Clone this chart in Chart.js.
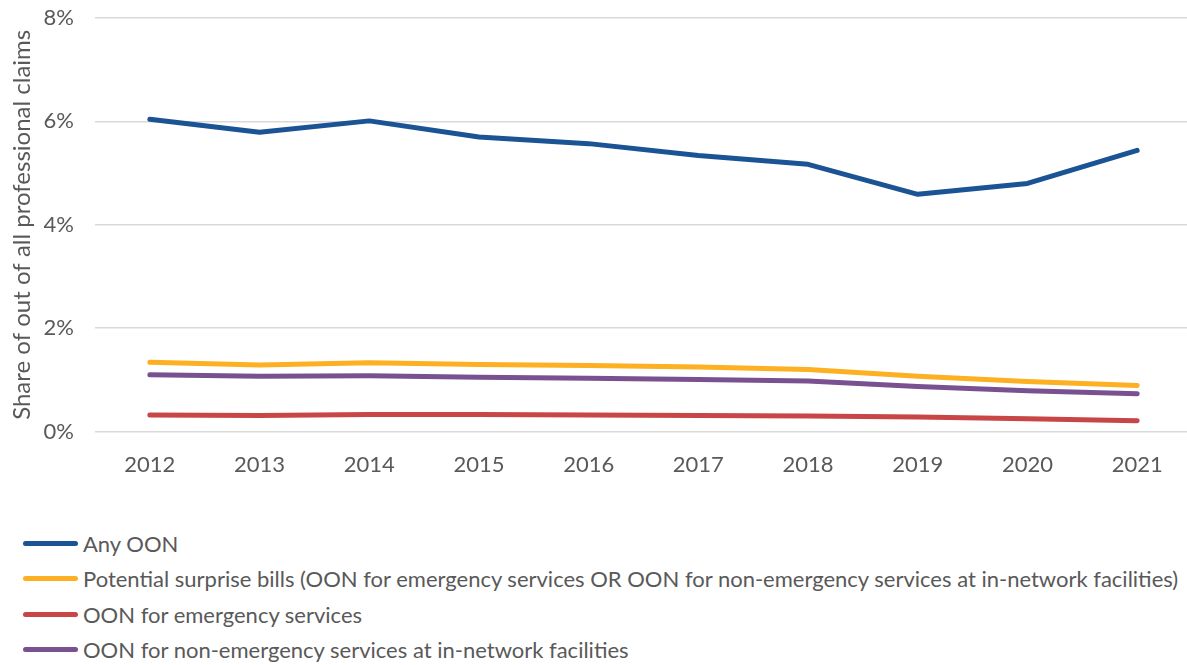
<!DOCTYPE html>
<html>
<head>
<meta charset="utf-8">
<script src="https://cdn.jsdelivr.net/npm/chart.js@4/dist/chart.umd.min.js"></script>
<style>
  html, body { margin: 0; padding: 0; background: #ffffff; overflow: hidden; }
  body { width: 1187px; height: 665px; position: relative; font-family: Lato, "Open Sans", sans-serif; }
  #wrap { position: absolute; left: 0; top: 0; width: 1192px; height: 503px; }
  #legend { position: absolute; left: 23px; top: 526px; margin: 0; padding: 0; list-style: none; }
  #legend li { display: flex; align-items: center; height: 35.3px; color: #595959; font-size: 22px; white-space: nowrap; }
  #legend .swatch { display: inline-block; width: 55px; height: 5px; border-radius: 3px; margin-right: 5px; }
</style>
</head>
<body>
<div id="wrap"><canvas id="chart"></canvas></div>
<ul id="legend"></ul>
<script>
// Years on the category axis
const years = ['2012', '2013', '2014', '2015', '2016', '2017', '2018', '2019', '2020', '2021'];

// Share of all professional claims, in percent
const anyOON = [6.04, 5.79, 6.01, 5.70, 5.57, 5.34, 5.17, 4.59, 4.80, 5.44];
const surpriseBills = [1.34, 1.29, 1.33, 1.30, 1.28, 1.25, 1.20, 1.07, 0.97, 0.89];
const emergencyOON = [0.32, 0.31, 0.33, 0.33, 0.32, 0.31, 0.30, 0.28, 0.25, 0.21];
const nonEmergencyOON = [1.10, 1.07, 1.08, 1.05, 1.03, 1.01, 0.98, 0.87, 0.79, 0.73];

// Y axis tick values
const yTicks = [0, 2, 4, 6, 8];

const seriesNames = [
  'Any OON',
  'Potential surprise bills (OON for emergency services OR OON for non-emergency services at in-network facilities)',
  'OON for emergency services',
  'OON for non-emergency services at in-network facilities'
];
const seriesColors = ['#1B5494', '#FDB022', '#C94647', '#7A5190'];
const seriesData = [anyOON, surpriseBills, emergencyOON, nonEmergencyOON];

const FONT = 'Lato, "Open Sans", sans-serif';
const TEXT = '#595959';

const datasets = seriesData.map((d, i) => ({
  label: seriesNames[i],
  data: d,
  borderColor: seriesColors[i],
  backgroundColor: seriesColors[i],
  borderWidth: 5,
  borderCapStyle: 'round',
  borderJoinStyle: 'round',
  pointRadius: 0,
  pointHoverRadius: 0,
  tension: 0,
  fill: false,
  order: i
}));

// Legend rendered as one row per series
const htmlLegend = {
  id: 'htmlLegend',
  afterUpdate(chart) {
    const ul = document.getElementById('legend');
    ul.innerHTML = '';
    chart.data.datasets.forEach(ds => {
      const li = document.createElement('li');
      const sw = document.createElement('span');
      sw.className = 'swatch';
      sw.style.background = ds.borderColor;
      li.appendChild(sw);
      li.appendChild(document.createTextNode(ds.label));
      ul.appendChild(li);
    });
  }
};

new Chart(document.getElementById('chart'), {
  type: 'line',
  data: { labels: years, datasets },
  options: {
    responsive: true,
    maintainAspectRatio: false,
    animation: false,
    layout: { padding: { top: 18, left: 8, right: 0, bottom: 5 } },
    plugins: {
      legend: { display: false },
      tooltip: { enabled: false }
    },
    scales: {
      x: {
        offset: true,
        grid: { display: false, drawTicks: false },
        border: { display: false },
        ticks: { color: TEXT, font: { family: FONT, size: 22 }, padding: 20, maxRotation: 0 }
      },
      y: {
        min: 0,
        max: 8,
        afterBuildTicks(scale) { scale.ticks = yTicks.map(v => ({ value: v })); },
        afterFit(scale) {
          scale.width = 87;
          scale.paddingTop = 0;
          scale.paddingBottom = 0;
        },
        grid: { color: '#D9D9D9', lineWidth: 1.5, drawTicks: false },
        border: { display: false },
        ticks: {
          color: TEXT,
          font: { family: FONT, size: 22 },
          padding: 21,
          callback: v => v + '%'
        },
        title: {
          display: true,
          text: 'Share of out of all professional claims',
          color: TEXT,
          font: { family: FONT, size: 24 },
          padding: { top: 0, bottom: 0 }
        }
      }
    }
  },
  plugins: [htmlLegend]
});
</script>
</body>
</html>
